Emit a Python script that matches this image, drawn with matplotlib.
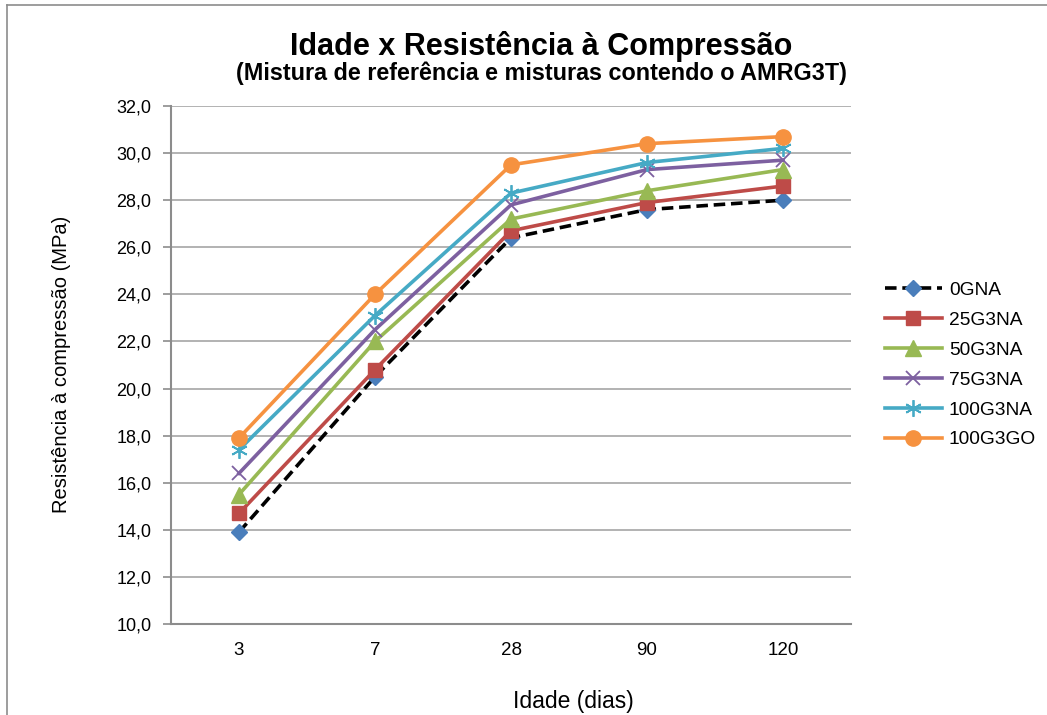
import matplotlib.pyplot as plt
from matplotlib.lines import Line2D
from matplotlib.ticker import FuncFormatter
import numpy as np

plt.rcParams['font.family'] = ['Liberation Sans', 'DejaVu Sans']

# Ages (days) and compressive strength (MPa) for each mix
idades = ['3', '7', '28', '90', '120']
s_0GNA = [13.9, 20.5, 26.4, 27.6, 28.0]
s_25G3NA = [14.7, 20.8, 26.7, 27.9, 28.6]
s_50G3NA = [15.5, 22.0, 27.2, 28.4, 29.3]
s_75G3NA = [16.4, 22.5, 27.8, 29.3, 29.7]
s_100G3NA = [17.4, 23.1, 28.3, 29.6, 30.2]
s_100G3GO = [17.9, 24.0, 29.5, 30.4, 30.7]

fig = plt.figure(figsize=(10.47, 7.15), dpi=100)
ax = fig.add_axes([171/1047, 1 - 624/715, 680/1047, 518/715])

x = np.arange(len(idades))
ax.plot(x, s_0GNA, color='black', linestyle=(0, (3.2, 1.6)), linewidth=2.6,
        marker='D', markersize=8, markerfacecolor='#4A7EBB',
        markeredgecolor='#4A7EBB', label='0GNA', zorder=3)
ax.plot(x, s_25G3NA, color='#BE4B48', linewidth=2.6, marker='s', markersize=10,
        label='25G3NA', zorder=3)
ax.plot(x, s_50G3NA, color='#98B954', linewidth=2.6, marker='^', markersize=11,
        label='50G3NA', zorder=3)
ax.plot(x, s_75G3NA, color='#7D60A0', linewidth=2.6, marker='x', markersize=10,
        markeredgewidth=1.3, label='75G3NA', zorder=3)
ax.plot(x, s_100G3NA, color='#46AAC5', linewidth=2.6, marker=(6, 2, 0), markersize=12,
        markeredgewidth=1.3, label='100G3NA', zorder=3)
ax.plot(x, s_100G3GO, color='#F69240', linewidth=2.6, marker='o', markersize=11,
        label='100G3GO', zorder=3)

ax.set_xlim(-0.5, 4.5)
ax.set_ylim(10, 32)
ax.set_xticks(x)
ax.set_xticklabels(idades)
ax.set_yticks(np.arange(10, 32.1, 2))
ax.yaxis.set_major_formatter(FuncFormatter(lambda v, p: f'{v:.1f}'.replace('.', ',')))
ax.tick_params(axis='x', length=0, pad=13, labelsize=13.5)
ax.tick_params(axis='y', length=6, width=1.2, color='#8c8c8c', direction='out',
               pad=8, labelsize=13)
ax.grid(axis='y', color='#a6a6a6', linewidth=1.2, zorder=0)

for side in ['top', 'right']:
    ax.spines[side].set_visible(False)
for side in ['left', 'bottom']:
    ax.spines[side].set_color('#8c8c8c')
    ax.spines[side].set_linewidth(1.5)

ax.set_xlabel('Idade (dias)', fontsize=16.5)
ax.xaxis.set_label_coords((573 - 171) / 680, (624 - 690) / 518)
ax.set_ylabel('Resistência à compressão (MPa)', fontsize=14.5, va='center')
ax.yaxis.set_label_coords((62 - 171) / 680, 0.5 + (624 - 364 - 259) / 518)

fig.text(541/1047, 1 - 46/715, 'Idade x Resistência à Compressão',
         ha='center', va='center', fontsize=22, fontweight='bold')
fig.text(541/1047, 1 - 73/715, '(Mistura de referência e misturas contendo o AMRG3T)',
         ha='center', va='center', fontsize=16.8, fontweight='bold')

fig.legend(loc='upper left', bbox_to_anchor=(877/1047, 1 - 274/715), frameon=False,
           fontsize=13.8, handlelength=3.0, labelspacing=0.65, handletextpad=0.35,
           borderaxespad=0)

# outer chart frame
fig.add_artist(Line2D([7/1047, 1], [1 - 5/715, 1 - 5/715], color='#8c8c8c', linewidth=1.2))
fig.add_artist(Line2D([7/1047, 7/1047], [0, 1 - 5/715], color='#8c8c8c', linewidth=1.2))

fig.savefig('out.png', dpi=100)
